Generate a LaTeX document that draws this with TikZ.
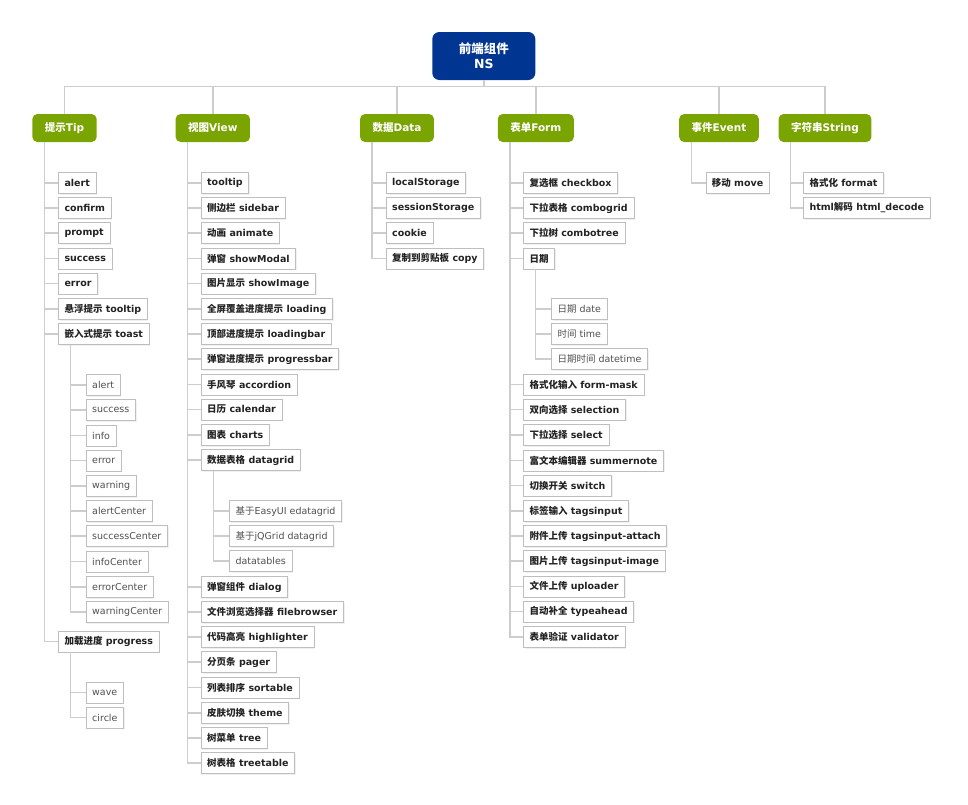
\documentclass[tikz,border=0pt]{standalone}
\usepackage{fontspec}
\setmainfont{DejaVu Sans}
\newfontfamily\cjk{Noto Sans CJK SC}
\newcommand{\zh}[1]{{\cjk #1}}
\usetikzlibrary{shadows}

\definecolor{rootblue}{RGB}{0,54,145}
\definecolor{catgreen}{RGB}{122,164,0}
\definecolor{boxgray}{RGB}{190,190,190}
\definecolor{linegray}{RGB}{205,205,205}
\definecolor{textdark}{RGB}{35,35,35}
\definecolor{textgray}{RGB}{80,80,80}

\tikzset{
    root/.style={fill=rootblue, rounded corners=7pt, text=white, align=center,
        font=\bfseries\fontsize{12.5}{15}\selectfont, minimum width=103, minimum height=48},
    cat/.style={fill=catgreen, rounded corners=5pt, text=white, inner xsep=12.5pt,
        font=\bfseries\fontsize{10.5}{12}\selectfont, minimum height=28},
    item/.style={draw=boxgray, fill=white, anchor=west, text=textdark, inner xsep=6pt,
        font=\bfseries\fontsize{9.5}{11}\selectfont, minimum height=21,
        drop shadow={shadow xshift=1.2pt, shadow yshift=-1.2pt, opacity=0.12}},
    subitem/.style={item, text=textgray, font=\fontsize{9.5}{11}\selectfont},
    link/.style={draw=linegray, line width=1.4pt}
}

\begin{document}
\begin{tikzpicture}[x=1pt, y=-1pt]
    \useasboundingbox (0,0) rectangle (968,804);

    % root and categories
    \node[root] (root) at (483.8,56) {\zh{前端组件}\\NS};
    \node[cat] (tip) at (64.5,128) {\zh{提示}Tip};
    \node[cat] (view) at (212.8,128) {\zh{视图}View};
    \node[cat] (data) at (397,128) {\zh{数据}Data};
    \node[cat] (form) at (535.8,128) {\zh{表单}Form};
    \node[cat] (event) at (719,128) {\zh{事件}Event};
    \node[cat] (str) at (825,128) {\zh{字符串}String};

    % 提示Tip
    \node[item] (t1) at (58.3,183) {alert};
    \node[item] (t2) at (58.3,208) {confirm};
    \node[item] (t3) at (58.3,233) {prompt};
    \node[item] (t4) at (58.3,258.5) {success};
    \node[item] (t5) at (58.3,283.5) {error};
    \node[item] (t6) at (58.3,309) {\zh{悬浮提示} tooltip};
    \node[item] (t7) at (58.3,334) {\zh{嵌入式提示} toast};
    \node[item] (t8) at (58.3,641.5) {\zh{加载进度} progress};
    \node[subitem] (ts1) at (86,385) {alert};
    \node[subitem] (ts2) at (86,410) {success};
    \node[subitem] (ts3) at (86,435.5) {info};
    \node[subitem] (ts4) at (86,460.5) {error};
    \node[subitem] (ts5) at (86,486) {warning};
    \node[subitem] (ts6) at (86,511) {alertCenter};
    \node[subitem] (ts7) at (86,536) {successCenter};
    \node[subitem] (ts8) at (86,561.5) {infoCenter};
    \node[subitem] (ts9) at (86,587) {errorCenter};
    \node[subitem] (ts10) at (86,612) {warningCenter};
    \node[subitem] (tp1) at (86,692.5) {wave};
    \node[subitem] (tp2) at (86,717.5) {circle};

    % 视图View
    \node[item] (v1) at (201,183) {tooltip};
    \node[item] (v2) at (201,208) {\zh{侧边栏} sidebar};
    \node[item] (v3) at (201,233) {\zh{动画} animate};
    \node[item] (v4) at (201,258.5) {\zh{弹窗} showModal};
    \node[item] (v5) at (201,283.5) {\zh{图片显示} showImage};
    \node[item] (v6) at (201,309) {\zh{全屏覆盖进度提示} loading};
    \node[item] (v7) at (201,334) {\zh{顶部进度提示} loadingbar};
    \node[item] (v8) at (201,359) {\zh{弹窗进度提示} progressbar};
    \node[item] (v9) at (201,384.5) {\zh{手风琴} accordion};
    \node[item] (v10) at (201,409.5) {\zh{日历} calendar};
    \node[item] (v11) at (201,435) {\zh{图表} charts};
    \node[item] (v12) at (201,460) {\zh{数据表格} datagrid};
    \node[subitem] (vd1) at (229.3,511) {\zh{基于}EasyUI edatagrid};
    \node[subitem] (vd2) at (229.3,536) {\zh{基于}jQGrid datagrid};
    \node[subitem] (vd3) at (229.3,561) {datatables};
    \node[item] (v13) at (201,587) {\zh{弹窗组件} dialog};
    \node[item] (v14) at (201,612) {\zh{文件浏览选择器} filebrowser};
    \node[item] (v15) at (201,637) {\zh{代码高亮} highlighter};
    \node[item] (v16) at (201,662) {\zh{分页条} pager};
    \node[item] (v17) at (201,687.5) {\zh{列表排序} sortable};
    \node[item] (v18) at (201,713) {\zh{皮肤切换} theme};
    \node[item] (v19) at (201,738) {\zh{树菜单} tree};
    \node[item] (v20) at (201,763) {\zh{树表格} treetable};

    % 数据Data
    \node[item] (d1) at (386,183) {localStorage};
    \node[item] (d2) at (386,208) {sessionStorage};
    \node[item] (d3) at (386,233) {cookie};
    \node[item] (d4) at (386,258.5) {\zh{复制到剪贴板} copy};

    % 表单Form
    \node[item] (f1) at (523.3,183) {\zh{复选框} checkbox};
    \node[item] (f2) at (523.3,208) {\zh{下拉表格} combogrid};
    \node[item] (f3) at (523.3,233) {\zh{下拉树} combotree};
    \node[item] (f4) at (523.3,258.5) {\zh{日期}};
    \node[subitem] (fd1) at (551.3,309) {\zh{日期} date};
    \node[subitem] (fd2) at (551.3,334) {\zh{时间} time};
    \node[subitem] (fd3) at (551.3,359) {\zh{日期时间} datetime};
    \node[item] (f5) at (523.3,384.5) {\zh{格式化输入} form-mask};
    \node[item] (f6) at (523.3,409.5) {\zh{双向选择} selection};
    \node[item] (f7) at (523.3,435) {\zh{下拉选择} select};
    \node[item] (f8) at (523.3,460.5) {\zh{富文本编辑器} summernote};
    \node[item] (f9) at (523.3,485.5) {\zh{切换开关} switch};
    \node[item] (f10) at (523.3,511) {\zh{标签输入} tagsinput};
    \node[item] (f11) at (523.3,536) {\zh{附件上传} tagsinput-attach};
    \node[item] (f12) at (523.3,561) {\zh{图片上传} tagsinput-image};
    \node[item] (f13) at (523.3,586.5) {\zh{文件上传} uploader};
    \node[item] (f14) at (523.3,611.5) {\zh{自动补全} typeahead};
    \node[item] (f15) at (523.3,637) {\zh{表单验证} validator};

    % 事件Event, 字符串String
    \node[item] (e1) at (705.7,183) {\zh{移动} move};
    \node[item] (s1) at (803.3,183) {\zh{格式化} format};
    \node[item] (s2) at (803.3,208) {html\zh{解码} html\_decode};

    % connectors
    \draw[link] (root.south) -- ++(0,6) -| (tip.north)
        (root.south) -- ++(0,6) -| (view.north)
        (root.south) -- ++(0,6) -| (data.north)
        (root.south) -- ++(0,6) -| (form.north)
        (root.south) -- ++(0,6) -| (event.north)
        (root.south) -- ++(0,6) -| (str.north);

    \coordinate (tipT) at ([xshift=12.3pt]tip.south west);
    \coordinate (toastT) at ([xshift=12.3pt]t7.south west);
    \coordinate (progT) at ([xshift=12.3pt]t8.south west);
    \draw[link] (tipT) |- (t1.west) (tipT) |- (t2.west) (tipT) |- (t3.west)
        (tipT) |- (t4.west) (tipT) |- (t5.west) (tipT) |- (t6.west)
        (tipT) |- (t7.west) (tipT) |- (t8.west);
    \draw[link] (toastT) |- (ts1.west) (toastT) |- (ts2.west) (toastT) |- (ts3.west)
        (toastT) |- (ts4.west) (toastT) |- (ts5.west) (toastT) |- (ts6.west)
        (toastT) |- (ts7.west) (toastT) |- (ts8.west) (toastT) |- (ts9.west)
        (toastT) |- (ts10.west);
    \draw[link] (progT) |- (tp1.west) (progT) |- (tp2.west);

    \coordinate (viewT) at ([xshift=12.3pt]view.south west);
    \coordinate (gridT) at ([xshift=12.3pt]v12.south west);
    \draw[link] (viewT) |- (v1.west) (viewT) |- (v2.west) (viewT) |- (v3.west)
        (viewT) |- (v4.west) (viewT) |- (v5.west) (viewT) |- (v6.west)
        (viewT) |- (v7.west) (viewT) |- (v8.west) (viewT) |- (v9.west)
        (viewT) |- (v10.west) (viewT) |- (v11.west) (viewT) |- (v12.west)
        (viewT) |- (v13.west) (viewT) |- (v14.west) (viewT) |- (v15.west)
        (viewT) |- (v16.west) (viewT) |- (v17.west) (viewT) |- (v18.west)
        (viewT) |- (v19.west) (viewT) |- (v20.west);
    \draw[link] (gridT) |- (vd1.west) (gridT) |- (vd2.west) (gridT) |- (vd3.west);

    \coordinate (dataT) at ([xshift=12.3pt]data.south west);
    \draw[link] (dataT) |- (d1.west) (dataT) |- (d2.west) (dataT) |- (d3.west)
        (dataT) |- (d4.west);

    \coordinate (formT) at ([xshift=12.3pt]form.south west);
    \coordinate (dateT) at ([xshift=12.3pt]f4.south west);
    \draw[link] (formT) |- (f1.west) (formT) |- (f2.west) (formT) |- (f3.west)
        (formT) |- (f4.west) (formT) |- (f5.west) (formT) |- (f6.west)
        (formT) |- (f7.west) (formT) |- (f8.west) (formT) |- (f9.west)
        (formT) |- (f10.west) (formT) |- (f11.west) (formT) |- (f12.west)
        (formT) |- (f13.west) (formT) |- (f14.west) (formT) |- (f15.west);
    \draw[link] (dateT) |- (fd1.west) (dateT) |- (fd2.west) (dateT) |- (fd3.west);

    \coordinate (eventT) at ([xshift=12.3pt]event.south west);
    \coordinate (strT) at ([xshift=12.3pt]str.south west);
    \draw[link] (eventT) |- (e1.west);
    \draw[link] (strT) |- (s1.west) (strT) |- (s2.west);
\end{tikzpicture}
\end{document}
